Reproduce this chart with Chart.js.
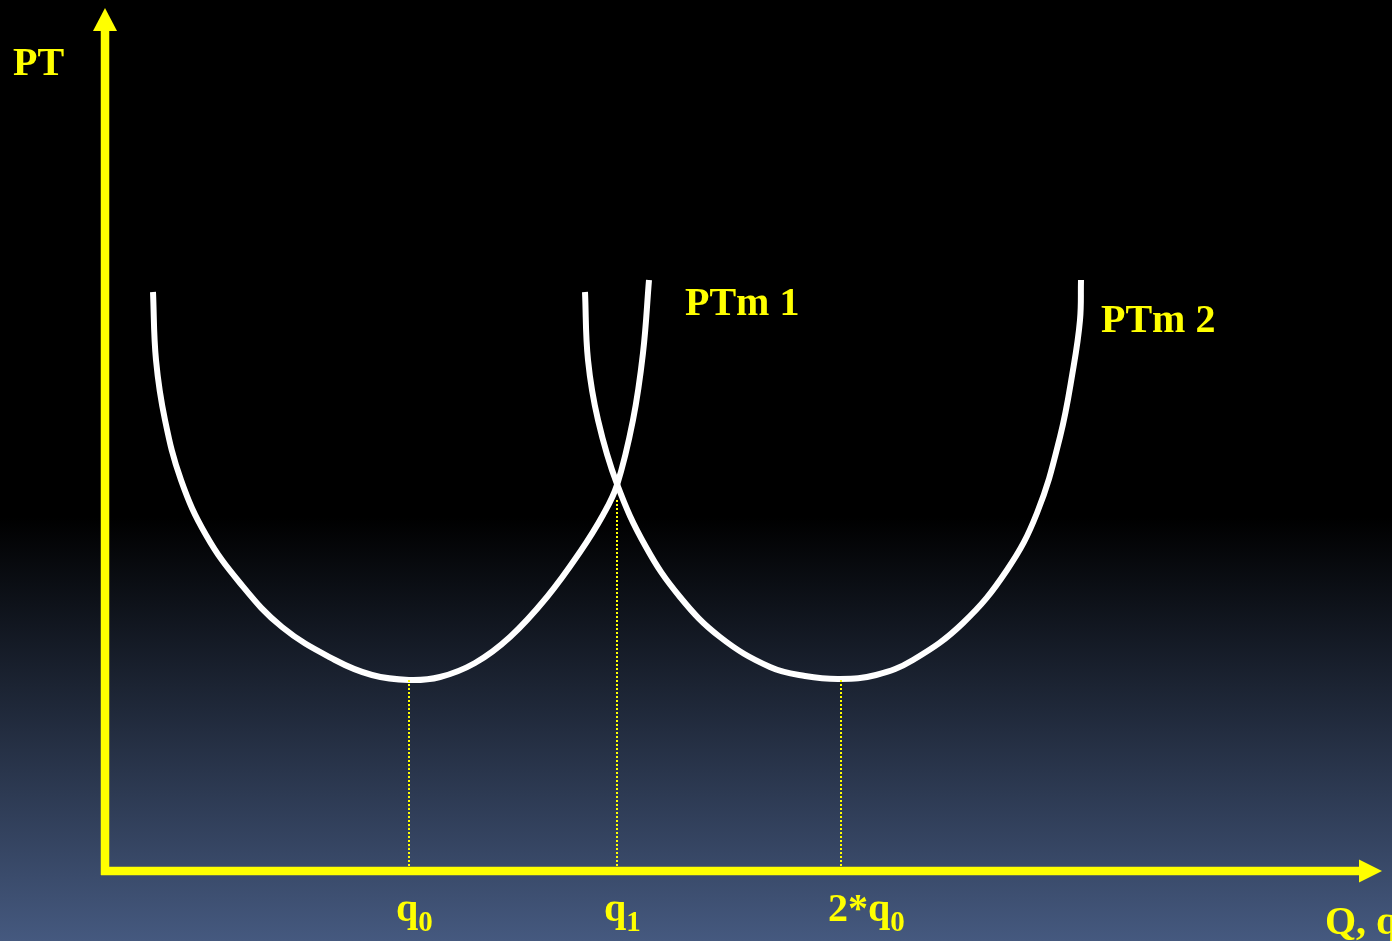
<!DOCTYPE html>
<html>
<head>
<meta charset="utf-8">
<title>PT</title>
<script src="https://cdn.jsdelivr.net/npm/chart.js@4.4.1/dist/chart.umd.min.js"></script>
<style>
  html, body { margin: 0; padding: 0; background: #000; overflow: hidden; }
  #wrap {
    width: 1392px;
    height: 941px;
    background: linear-gradient(to bottom, #000 0%, #000 55%, #45597f 100%);
  }
</style>
</head>
<body>
<div id="wrap"><canvas id="ptChart" width="1392" height="941"></canvas></div>
<script>
// values (x = quantity, y = PT, arbitrary units)
const ptm1X = [4.8, 5.1, 6.0, 7.6, 10.1, 13.5, 17.7, 23.0, 26.7, 30.4,
               33.5, 37.0, 40.5, 44.2, 47.5, 49.8, 51.2, 52.8, 53.8, 54.4];
const ptm1Y = [57.9, 51.1, 45.1, 39.1, 33.6, 28.8, 24.4, 21.1, 19.6, 19.1,
               19.4, 20.8, 23.4, 27.4, 31.9, 35.6, 38.6, 45.1, 51.8, 59.1];

const ptm2X = [48.0, 48.3, 49.3, 51.2, 54.1, 57.5, 61.5, 66.5, 70.0, 73.5,
               77.1, 80.8, 85.8, 90.2, 93.2, 95.5, 96.8, 97.5, 97.6];
const ptm2Y = [57.9, 51.1, 45.1, 38.7, 32.4, 27.4, 23.4, 20.4, 19.5, 19.2,
               19.6, 21.1, 24.8, 30.1, 35.8, 43.4, 50.1, 55.1, 59.1];

const curveNames = ['PTm 1', 'PTm 2'];

// guide lines: q0 (min of PTm 1), q1 (crossing), 2*q0 (min of PTm 2)
const tickValues = [30.4, 51.2, 73.6];
const tickTops = [19.1, 37.1, 19.1];
const tickMain = ['q', 'q', '2*q'];
const tickSub = ['0', '1', '0'];

const yTitle = 'PT';
const xTitle = 'Q, q';

const xMin = -10.5, xMax = 128.7;
const yMin = -7.0, yMax = 87.1;
const xAxisEnd = 127.7, yAxisEnd = 86.3;

const zip = (xs, ys) => xs.map((x, i) => ({ x: x, y: ys[i] }));

const YELLOW = '#ffff00';
const FONT = '"Liberation Serif", "Times New Roman", serif';

const guideSets = tickValues.map((v, i) => ({
    data: [{ x: v, y: tickTops[i] }, { x: v, y: 0.5 }],
    borderColor: YELLOW,
    borderWidth: 2,
    borderDash: [2, 2],
    pointRadius: 0,
    tension: 0
}));

const curveSets = [zip(ptm1X, ptm1Y), zip(ptm2X, ptm2Y)].map((pts, i) => ({
    label: curveNames[i],
    data: pts,
    borderColor: '#ffffff',
    borderWidth: 6,
    borderCapStyle: 'butt',
    borderJoinStyle: 'round',
    pointRadius: 0,
    tension: 0.4
}));

// axes with arrow heads, drawn through the scales
const axesPlugin = {
    id: 'axes',
    afterDatasetsDraw(chart) {
        const ctx = chart.ctx;
        const xs = chart.scales.x, ys = chart.scales.y;
        const x0 = xs.getPixelForValue(0), y0 = ys.getPixelForValue(0);
        const xEnd = xs.getPixelForValue(xAxisEnd), yEnd = ys.getPixelForValue(yAxisEnd);
        ctx.save();
        ctx.fillStyle = YELLOW;
        ctx.strokeStyle = YELLOW;
        ctx.lineWidth = 8.5;
        ctx.lineCap = 'butt';
        ctx.beginPath();
        ctx.moveTo(x0, y0 + 4);
        ctx.lineTo(x0, yEnd + 20);
        ctx.moveTo(x0 - 4, y0);
        ctx.lineTo(xEnd - 20, y0);
        ctx.stroke();
        // arrow heads
        ctx.beginPath();
        ctx.moveTo(x0, yEnd);
        ctx.lineTo(x0 - 12, yEnd + 23);
        ctx.lineTo(x0 + 12, yEnd + 23);
        ctx.closePath();
        ctx.fill();
        ctx.beginPath();
        ctx.moveTo(xEnd, y0);
        ctx.lineTo(xEnd - 23, y0 - 11.5);
        ctx.lineTo(xEnd - 23, y0 + 11.5);
        ctx.closePath();
        ctx.fill();
        ctx.restore();
    }
};

// text: axis titles, tick labels with subscripts, curve names
const textPlugin = {
    id: 'texts',
    afterDraw(chart) {
        const ctx = chart.ctx;
        const xs = chart.scales.x;
        ctx.save();
        ctx.fillStyle = YELLOW;
        ctx.textAlign = 'left';
        ctx.textBaseline = 'alphabetic';
        ctx.font = 'bold 40px ' + FONT;
        ctx.fillText(yTitle, 13, 75);
        ctx.fillText(xTitle, 1325, 934);
        ctx.fillText(curveNames[0], 685, 315);
        ctx.fillText(curveNames[1], 1101, 332);

        tickValues.forEach((v, i) => {
            const px = xs.getPixelForValue(v) - 13;
            ctx.font = 'bold 40px ' + FONT;
            ctx.fillText(tickMain[i], px, 921);
            const w = ctx.measureText(tickMain[i]).width;
            ctx.font = 'bold 29px ' + FONT;
            ctx.fillText(tickSub[i], px + w, 931);
        });
        ctx.restore();
    }
};

new Chart(document.getElementById('ptChart').getContext('2d'), {
    type: 'line',
    data: { datasets: guideSets.concat(curveSets) },
    options: {
        responsive: false,
        animation: false,
        devicePixelRatio: 1,
        layout: { padding: 0 },
        scales: {
            x: { type: 'linear', min: xMin, max: xMax, display: false },
            y: { type: 'linear', min: yMin, max: yMax, display: false }
        },
        plugins: {
            legend: { display: false },
            tooltip: { enabled: false }
        }
    },
    plugins: [axesPlugin, textPlugin]
});
</script>
</body>
</html>
